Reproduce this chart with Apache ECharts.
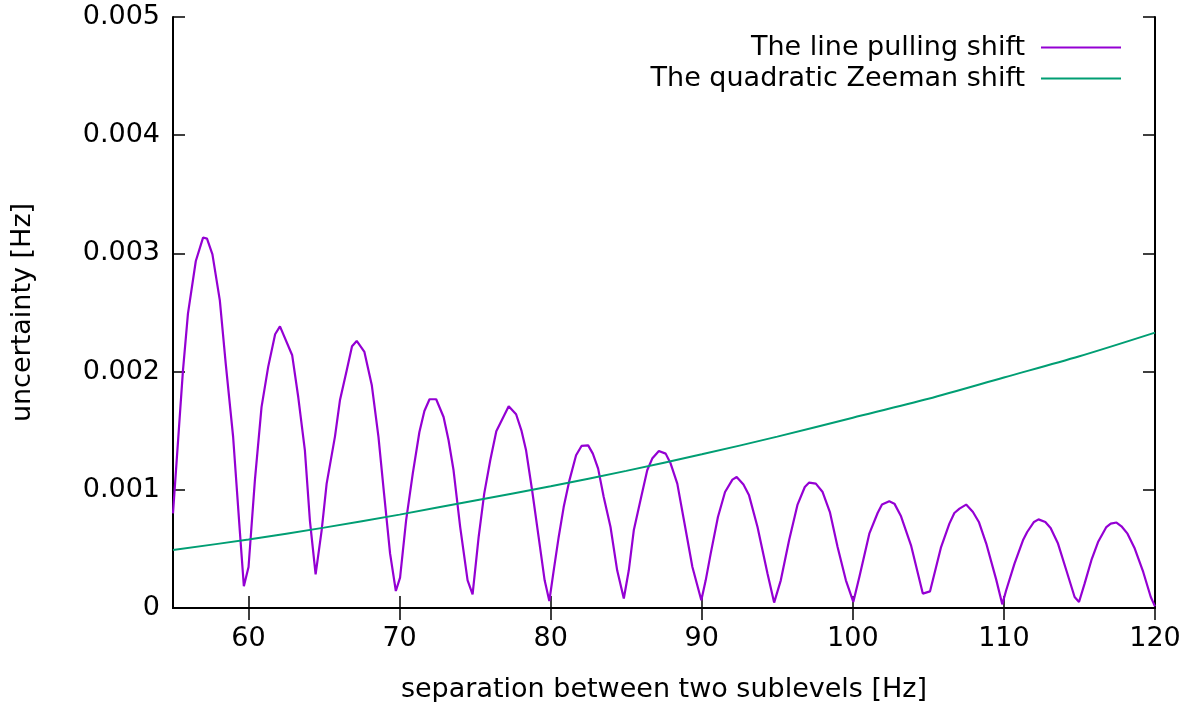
<!DOCTYPE html>
<html>
<head>
<meta charset="utf-8">
<title>Line pulling vs quadratic Zeeman shift</title>
<script src="https://cdn.jsdelivr.net/npm/echarts@6/dist/echarts.min.js"></script>
<style>
  html, body { margin: 0; padding: 0; background: #ffffff; }
  #chart { width: 1202px; height: 702px; }
</style>
</head>
<body>
<div id="chart"></div>
<script>
// Line pulling shift, sampled points (separation in Hz, uncertainty in Hz)
const pullingHz = [
  55.00, 55.66, 55.99, 56.51, 56.99, 57.25, 57.61, 58.10, 58.49, 58.98, 59.42, 59.69,
  60.00, 60.42, 60.86, 61.30, 61.76, 62.08, 62.89, 63.29, 63.73, 64.06, 64.44, 64.84,
  65.17, 65.72, 66.05, 66.50, 66.85, 67.16, 67.67, 68.16, 68.60, 68.97, 69.37, 69.75,
  70.03, 70.43, 70.87, 71.31, 71.64, 71.98, 72.42, 72.91, 73.24, 73.57, 74.01, 74.50,
  74.83, 75.23, 75.60, 76.00, 76.40, 77.22, 77.71, 78.06, 78.37, 78.77, 79.20, 79.60,
  79.91, 80.20, 80.53, 80.86, 81.24, 81.68, 82.04, 82.48, 82.79, 83.14, 83.51, 83.96,
  84.40, 84.84, 85.17, 85.50, 85.99, 86.39, 86.72, 87.16, 87.61, 87.94, 88.38, 88.82,
  89.38, 89.97, 90.26, 90.59, 91.07, 91.54, 92.03, 92.31, 92.76, 93.13, 93.69, 94.35,
  94.79, 95.23, 95.78, 96.34, 96.82, 97.11, 97.55, 98.00, 98.48, 98.99, 99.54, 100.03,
  100.43, 101.09, 101.64, 101.93, 102.41, 102.75, 103.19, 103.85, 104.63, 105.11, 105.84, 106.39,
  106.72, 107.06, 107.50, 107.95, 108.34, 108.83, 109.49, 109.89, 110.15, 110.70, 111.26, 111.54,
  111.99, 112.29, 112.74, 113.09, 113.58, 114.13, 114.68, 114.97, 115.34, 115.79, 116.23, 116.78,
  117.07, 117.45, 117.78, 118.18, 118.66, 119.22, 119.72, 120.00
];
const pullingVal = [
  0.000800, 0.002011, 0.002490, 0.002936, 0.003134, 0.003125, 0.002992, 0.002603, 0.002068, 0.001447, 0.000657, 0.000184,
  0.000347, 0.001080, 0.001700, 0.002040, 0.002316, 0.002383, 0.002138, 0.001785, 0.001334, 0.000742, 0.000285, 0.000657,
  0.001052, 0.001450, 0.001757, 0.002011, 0.002214, 0.002259, 0.002166, 0.001884, 0.001447, 0.000968, 0.000460, 0.000144,
  0.000257, 0.000742, 0.001137, 0.001489, 0.001667, 0.001766, 0.001766, 0.001616, 0.001419, 0.001165, 0.000685, 0.000234,
  0.000116, 0.000600, 0.000968, 0.001250, 0.001495, 0.001706, 0.001639, 0.001503, 0.001334, 0.000996, 0.000601, 0.000234,
  0.000059, 0.000319, 0.000601, 0.000854, 0.001080, 0.001292, 0.001371, 0.001376, 0.001306, 0.001179, 0.000939, 0.000685,
  0.000319, 0.000080, 0.000319, 0.000657, 0.000939, 0.001165, 0.001264, 0.001328, 0.001306, 0.001222, 0.001052, 0.000742,
  0.000347, 0.000065, 0.000234, 0.000460, 0.000770, 0.000981, 0.001086, 0.001108, 0.001044, 0.000953, 0.000685, 0.000291,
  0.000046, 0.000234, 0.000573, 0.000875, 0.001024, 0.001061, 0.001052, 0.000981, 0.000812, 0.000516, 0.000234, 0.000051,
  0.000262, 0.000629, 0.000804, 0.000875, 0.000903, 0.000883, 0.000776, 0.000530, 0.000122, 0.000141, 0.000516, 0.000714,
  0.000804, 0.000841, 0.000875, 0.000812, 0.000728, 0.000545, 0.000240, 0.000031, 0.000150, 0.000376, 0.000573, 0.000643,
  0.000728, 0.000750, 0.000728, 0.000677, 0.000545, 0.000319, 0.000093, 0.000051, 0.000206, 0.000404, 0.000558, 0.000685,
  0.000714, 0.000723, 0.000691, 0.000629, 0.000503, 0.000305, 0.000093, 0.000014
];

// Quadratic Zeeman shift, read every 5 Hz
const zeemanHz = [55, 60, 65, 70, 75, 80, 85, 90, 95, 100, 105, 110, 115, 120];
const zeemanVal = [0.00049, 0.00058, 0.00068, 0.00079, 0.00091, 0.00103, 0.00116,
                   0.00130, 0.00145, 0.00161, 0.00177, 0.00195, 0.00213, 0.00233];

// Axis ticks
const xTicks = [60, 70, 80, 90, 100, 110, 120];
const seriesNames = ['The line pulling shift', 'The quadratic Zeeman shift'];
const colors = ['#9400d3', '#009e73'];

const FONT = 'DejaVu Sans';
const FS = 27;
const pulling = pullingHz.map((x, i) => [x, pullingVal[i]]);
const zeeman = zeemanHz.map((x, i) => [x, zeemanVal[i]]);

const chart = echarts.init(document.getElementById('chart'), null, { renderer: 'canvas' });

const axisLine = { show: true, lineStyle: { color: '#000', width: 2 } };
const axisTick = { show: true, inside: true, length: 12, lineStyle: { color: '#000', width: 1.5 } };

function legendFor(name, top) {
  return {
    data: [{ name: name, icon: 'rect' }],
    right: 76,
    top: top,
    align: 'right',
    itemWidth: 80,
    itemHeight: 2,
    selectedMode: false,
    textStyle: { fontFamily: FONT, fontSize: FS, color: '#000', padding: [0, 11, 0, 0] }
  };
}

chart.setOption({
  backgroundColor: '#ffffff',
  animation: false,
  grid: { left: 173, right: 47, top: 17, bottom: 94, containLabel: false, outerBoundsMode: 'none' },
  legend: [legendFor(seriesNames[0], 29), legendFor(seriesNames[1], 60)],
  xAxis: [
    {
      type: 'value', min: 55, max: 120, position: 'bottom',
      name: 'separation between two sublevels [Hz]',
      nameLocation: 'middle', nameGap: 68,
      nameTextStyle: { fontFamily: FONT, fontSize: FS, color: '#000' },
      axisLine: axisLine,
      axisTick: Object.assign({}, axisTick, { customValues: xTicks }),
      axisLabel: { customValues: xTicks, margin: 17, fontFamily: FONT, fontSize: FS, color: '#000' },
      splitLine: { show: false }
    },
    {
      type: 'value', min: 55, max: 120, position: 'top',
      axisLine: axisLine,
      axisTick: Object.assign({}, axisTick, { customValues: xTicks }),
      axisLabel: { show: false, customValues: xTicks },
      splitLine: { show: false }
    }
  ],
  yAxis: [
    {
      type: 'value', min: 0, max: 0.005, interval: 0.001, position: 'left',
      name: 'uncertainty [Hz]',
      nameLocation: 'middle', nameGap: 137,
      nameTextStyle: { fontFamily: FONT, fontSize: FS, color: '#000' },
      axisLine: axisLine,
      axisTick: axisTick,
      axisLabel: {
        margin: 13, fontFamily: FONT, fontSize: FS, color: '#000',
        formatter: v => (v === 0 ? '0' : v.toFixed(3))
      },
      splitLine: { show: false }
    },
    {
      type: 'value', min: 0, max: 0.005, interval: 0.001, position: 'right',
      axisLine: axisLine,
      axisTick: axisTick,
      axisLabel: { show: false },
      splitLine: { show: false }
    }
  ],
  series: [
    {
      name: seriesNames[0], type: 'line', data: pulling,
      xAxisIndex: 0, yAxisIndex: 0,
      showSymbol: false, symbol: 'none',
      itemStyle: { color: colors[0] },
      lineStyle: { color: colors[0], width: 2.2 },
      clip: true
    },
    {
      name: seriesNames[1], type: 'line', data: zeeman,
      xAxisIndex: 0, yAxisIndex: 0,
      showSymbol: false, symbol: 'none', smooth: 0.3,
      itemStyle: { color: colors[1] },
      lineStyle: { color: colors[1], width: 2 },
      clip: true
    }
  ]
});
</script>
</body>
</html>
